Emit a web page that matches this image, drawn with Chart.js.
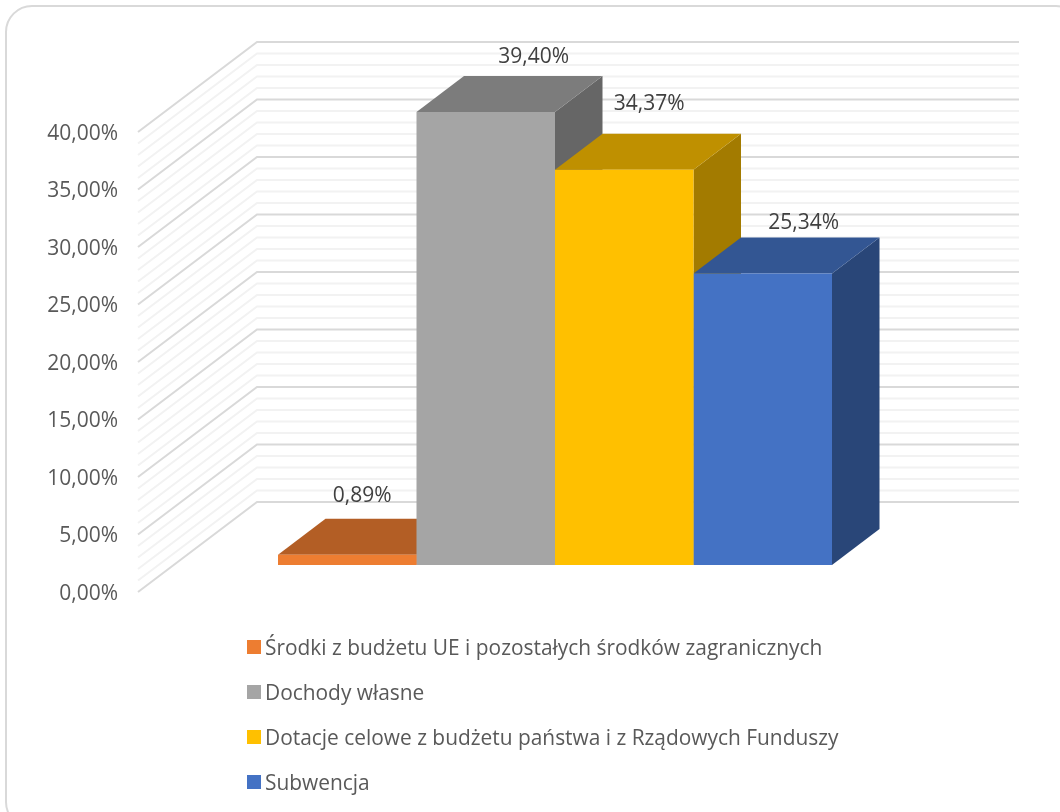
<!DOCTYPE html>
<html lang="pl">
<head>
<meta charset="utf-8">
<title>Dochody</title>
<style>
    html, body { margin: 0; height: 100%; overflow: hidden; background: #fff; }
    #frame { position: absolute; left: 5px; top: 5px; width: 1074px; height: 820px; border: 2px solid #d9d9d9; border-radius: 27px; }
    #chart { position: absolute; left: 0; top: 0; }
    #legend { position: absolute; left: 247px; top: 624.5px; font: 20.9px "Open Sans", sans-serif; color: #595959; }
    #legend div { height: 45px; display: flex; align-items: center; white-space: nowrap; }
    #legend i { width: 14px; height: 14px; margin-right: 4px; }
</style>
</head>
<body>
<div id="frame"></div>
<canvas id="chart" width="1060" height="812"></canvas>
<div id="legend"></div>
<script src="https://cdn.jsdelivr.net/npm/chart.js@4/dist/chart.umd.min.js"></script>
<script>
const categories = ['Dochody'];
const seriesNames = [
    'Środki z budżetu UE i pozostałych środków zagranicznych',
    'Dochody własne',
    'Dotacje celowe z budżetu państwa i z Rządowych Funduszy',
    'Subwencja',
];
const seriesValues = [0.89, 39.40, 34.37, 25.34];
const yTicks = [0, 5, 10, 15, 20, 25, 30, 35, 40];
const minorStep = 1;

const frontColors = ['#ed7d31', '#a5a5a5', '#ffc000', '#4472c4'];
const topColors = ['#b35e25', '#7c7c7c', '#bf9000', '#335693'];
const sideColors = ['#8e4b1d', '#666666', '#a37b00', '#294678'];

// depth of the 3D box, in pixels
const wallShift = { x: 119, y: -90 };
const barShift = { x: 36, y: -27 };
const barDepth = { x: 47.5, y: -36 };
const wallRight = 1019;
// hand placed labels, offset from the top of each bar's front face
const labelShift = [[15, -59], [48, -55], [25, -66], [41, -51]];

const pct = (v) => v.toFixed(2).replace('.', ',') + '%';

function poly(ctx, color, pts) {
    ctx.fillStyle = color;
    ctx.beginPath();
    pts.forEach(([x, y], i) => (i ? ctx.lineTo(x, y) : ctx.moveTo(x, y)));
    ctx.closePath();
    ctx.fill();
}

const box3d = {
    id: 'box3d',
    beforeDatasetsDraw(chart) {
        const { ctx, chartArea, scales: { y } } = chart;
        const top = yTicks[yTicks.length - 1];
        ctx.save();
        // walls: one line per step, along the side wall then along the back wall
        ctx.lineWidth = 2;
        const drawLine = (v, color) => {
            const py = y.getPixelForValue(v);
            ctx.strokeStyle = color;
            ctx.beginPath();
            ctx.moveTo(chartArea.left, py);
            ctx.lineTo(chartArea.left + wallShift.x, py + wallShift.y);
            ctx.lineTo(wallRight, py + wallShift.y);
            ctx.stroke();
        };
        for (let v = yTicks[0]; v <= top; v += minorStep) {
            if (!yTicks.includes(v)) drawLine(v, '#f2f2f2');
        }
        yTicks.forEach((v) => drawLine(v, '#d9d9d9'));

        // top and side faces go left to right, the front faces are painted over them afterwards
        ctx.translate(barShift.x, barShift.y);
        const dx = barDepth.x;
        const dy = barDepth.y;
        chart.data.datasets.forEach((ds, i) => {
            const bar = chart.getDatasetMeta(i).data[0];
            const left = bar.x - bar.width / 2;
            const right = bar.x + bar.width / 2;
            poly(ctx, sideColors[i], [[right, bar.y], [right + dx, bar.y + dy], [right + dx, bar.base + dy], [right, bar.base]]);
            poly(ctx, topColors[i], [[left, bar.y], [left + dx, bar.y + dy], [right + dx, bar.y + dy], [right, bar.y]]);
        });
        ctx.restore();
    },
    beforeDatasetDraw(chart) {
        chart.ctx.save();
        chart.ctx.translate(barShift.x, barShift.y);
    },
    afterDatasetDraw(chart) {
        chart.ctx.restore();
    },
    afterDatasetsDraw(chart) {
        const { ctx } = chart;
        ctx.save();
        ctx.font = '21px "Open Sans", sans-serif';
        ctx.fillStyle = '#404040';
        ctx.textAlign = 'center';
        ctx.textBaseline = 'middle';
        chart.data.datasets.forEach((ds, i) => {
            const bar = chart.getDatasetMeta(i).data[0];
            ctx.fillText(pct(ds.data[0]),
                bar.x + barShift.x + labelShift[i][0],
                bar.y + barShift.y + labelShift[i][1]);
        });
        ctx.restore();
    },
};

const chart = new Chart(document.getElementById('chart'), {
    type: 'bar',
    data: {
        labels: categories,
        datasets: seriesNames.map((name, i) => ({
            label: name,
            data: [seriesValues[i]],
            backgroundColor: frontColors[i],
            barPercentage: 1,
            categoryPercentage: 554 / 762,
        })),
    },
    options: {
        responsive: false,
        animation: false,
        layout: { padding: { top: 132, right: 160, bottom: 220, left: 0 } },
        plugins: { legend: { display: false }, tooltip: { enabled: false } },
        scales: {
            x: { display: false },
            y: {
                min: yTicks[0],
                max: yTicks[yTicks.length - 1],
                afterFit(scale) { scale.width = 138; },
                grid: { display: false },
                border: { display: false },
                ticks: {
                    stepSize: yTicks[1] - yTicks[0],
                    padding: 12,
                    labelOffset: 2,
                    color: '#595959',
                    font: { family: '"Open Sans", sans-serif', size: 21 },
                    callback: (v) => pct(v),
                },
            },
        },
    },
    plugins: [box3d],
});

const legend = document.getElementById('legend');
chart.data.datasets.forEach((ds) => {
    const row = document.createElement('div');
    const swatch = document.createElement('i');
    swatch.style.background = ds.backgroundColor;
    row.append(swatch, ds.label);
    legend.append(row);
});
</script>
</body>
</html>
